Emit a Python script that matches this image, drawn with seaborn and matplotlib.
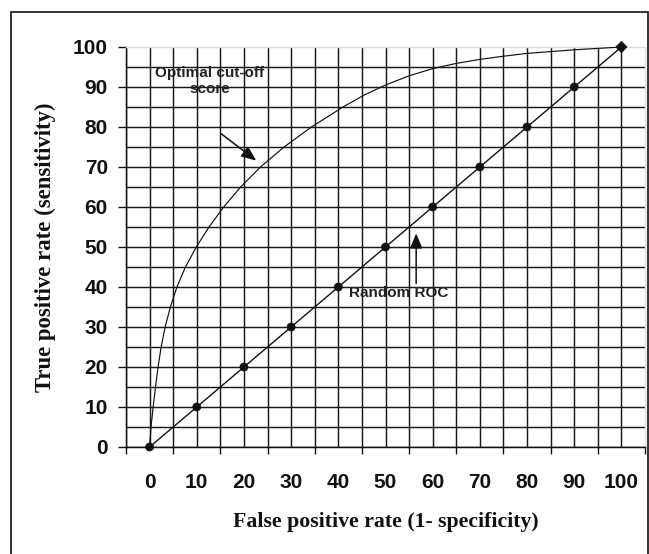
# ROC curve vs random classifier

import matplotlib
matplotlib.use('Agg')
import matplotlib.pyplot as plt
from matplotlib.patches import Rectangle
import seaborn as sns
import numpy as np

# ROC curve
fpr_curve = [0, 0.3, 0.75, 1.25, 1.8, 2.45, 3.3, 4.4, 5.8, 7.6, 9.9, 12.6, 15.7,
             19.3, 23.5, 28.5, 34.3, 41, 45.5, 50, 55, 60, 65, 70, 75, 80, 90, 100]
tpr_curve = [0, 5, 10, 15, 20, 25, 30, 35, 40, 45, 50, 55, 60,
             65, 70, 75, 80, 85, 88, 90.5, 92.8, 94.6, 95.9, 96.9, 97.7, 98.4, 99.3, 100]

# random ROC diagonal
rand_x = [0, 10, 20, 30, 40, 50, 60, 70, 80, 90, 100]
rand_y = [0, 10, 20, 30, 40, 50, 60, 70, 80, 90, 100]
rand_kind = ['dot'] * 10 + ['end']

tick_vals = [0, 10, 20, 30, 40, 50, 60, 70, 80, 90, 100]

sns.set_style('white')
plt.rcParams['font.family'] = ['Liberation Sans', 'DejaVu Sans']

fig = plt.figure(figsize=(6.49, 5.54), dpi=100)
ax = fig.add_axes([126/649, 1 - 447/554, 519/649, 400/554])

sns.lineplot(x=fpr_curve, y=tpr_curve, sort=False, estimator=None,
             color='#111111', lw=0.85, ax=ax, zorder=4)
sns.lineplot(x=rand_x, y=rand_y, sort=False, estimator=None,
             color='#111111', lw=1.0, ax=ax, zorder=4)
sns.scatterplot(x=rand_x, y=rand_y, style=rand_kind, markers={'dot': 'o', 'end': 'D'},
                color='#111111', s=34, edgecolor='#111111', legend=False,
                ax=ax, zorder=5, clip_on=False)

ax.set_xlim(-5, 105)
ax.set_ylim(0, 100)

# labels at the tens, tick marks at the odd fives
ax.set_xticks(tick_vals)
ax.set_xticks(np.arange(-5, 106, 10), minor=True)
ax.set_yticks(tick_vals)
ax.set_yticks(np.arange(5, 100, 10), minor=True)
ax.tick_params(axis='x', which='major', length=0, pad=19, labelsize=15)
ax.tick_params(axis='x', which='minor', length=5, width=1.0, direction='out',
               color='#111111', bottom=True)
ax.tick_params(axis='y', which='major', length=6, width=1.0, direction='out',
               color='#111111', pad=7, labelsize=15, left=True)
ax.tick_params(axis='y', which='minor', length=0)
for lab in ax.get_xticklabels() + ax.get_yticklabels():
    lab.set_fontweight('bold')
    lab.set_color('#111111')

ax.grid(True, which='both', color='#1a1a1a', lw=1.05)
ax.set_axisbelow(True)
# no black line along the top and right edges
ax.yaxis.get_major_ticks()[-1].gridline.set_visible(False)
ax.xaxis.get_minor_ticks()[-1].gridline.set_visible(False)

for side in ['left', 'bottom']:
    ax.spines[side].set_color('#111111')
    ax.spines[side].set_linewidth(1.05)
for side in ['top', 'right']:
    ax.spines[side].set_color('#dddddd')
    ax.spines[side].set_linewidth(1.0)

ax.set_xlabel('False positive rate (1- specificity)', family=['Liberation Serif'],
              fontweight='bold', fontsize=15.7, color='#111111')
ax.set_ylabel('True positive rate (sensitivity)', family=['Liberation Serif'],
              fontweight='bold', fontsize=16.4, color='#111111')
ax.xaxis.set_label_coords(0.5, -0.163)
ax.yaxis.set_label_coords(-0.135, 0.5)

# annotations
ax.text(12.7, 91.6, 'Optimal cut-off\nscore', ha='center', va='center',
        fontsize=11, fontweight='bold', color='#222222', linespacing=1.2, zorder=6)
ax.annotate('', xy=(22.6, 71.6), xytext=(15.2, 78.3),
            arrowprops=dict(arrowstyle='-|>,head_length=0.6,head_width=0.25',
                            color='#111111', lw=1.1, mutation_scale=15,
                            shrinkA=0, shrinkB=0), zorder=6)
ax.text(52.7, 38.6, 'Random ROC', ha='center', va='center',
        fontsize=11, fontweight='bold', color='#222222', zorder=6)
ax.annotate('', xy=(56.5, 53.4), xytext=(56.5, 40.9),
            arrowprops=dict(arrowstyle='-|>,head_length=0.6,head_width=0.25',
                            color='#111111', lw=1.1, mutation_scale=15,
                            shrinkA=0, shrinkB=0), zorder=6)

# frame round the whole picture
fig.patches.append(Rectangle((11/649, -0.05), 637/649, 1.05 - 12/554, fill=False,
                             edgecolor='#111111', lw=1.2, transform=fig.transFigure))

fig.savefig('out.png', dpi=100)
